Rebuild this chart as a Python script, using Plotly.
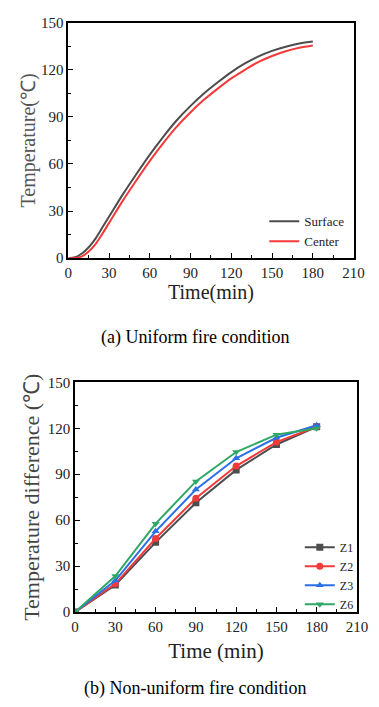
import plotly.graph_objects as go

# (a) Uniform fire condition: temperature history of surface and center
time_a = [0, 5, 10, 15, 20, 25, 30, 40, 50, 60, 70, 80, 90, 100, 110, 120, 130, 140, 150, 160, 170, 180]
surface = [0, 0.6, 3, 7, 12.5, 19.5, 26.5, 40.5, 53.5, 66, 77.5, 88, 97, 105, 112, 118.5, 124, 128.5, 132, 134.7, 136.7, 138]
center = [0, 0.1, 1.2, 4.3, 9, 15.5, 22.5, 36.5, 49.5, 62, 73.5, 84, 93, 101, 108, 114.5, 120, 125, 128.8, 131.8, 134, 135.5]

# (b) Non-uniform fire condition: temperature difference at zones
time_b = [0, 30, 60, 90, 120, 150, 180]
z1 = [0, 17.7, 45.5, 71.3, 92.8, 109.4, 121]
z2 = [0, 18.4, 48, 74.3, 95.3, 111, 121]
z3 = [0, 20.5, 52.7, 80, 100.4, 113.8, 122]
z6 = [0, 23.5, 57.7, 85.3, 104.5, 115.8, 120]

x_ticks = [0, 30, 60, 90, 120, 150, 180, 210]
y_ticks = [0, 30, 60, 90, 120, 150]

W, H = 379, 707
SERIF = "'Liberation Serif', 'Times New Roman', serif"

fig = go.Figure()

fig.add_trace(go.Scatter(x=time_a, y=surface, name="Surface", mode="lines",
                         line=dict(color="#4d4d4d", width=2, shape="spline"),
                         xaxis="x", yaxis="y", legend="legend"))
fig.add_trace(go.Scatter(x=time_a, y=center, name="Center", mode="lines",
                         line=dict(color="#f23a3a", width=2, shape="spline"),
                         xaxis="x", yaxis="y", legend="legend"))

zones = [("Z1", z1, "#4d4d4d", "square"),
         ("Z2", z2, "#f23a3a", "circle"),
         ("Z3", z3, "#2a6ee8", "triangle-up"),
         ("Z6", z6, "#2fa866", "triangle-down")]
for name, vals, color, sym in zones:
    fig.add_trace(go.Scatter(x=time_b, y=vals, name=name, mode="lines+markers",
                             line=dict(color=color, width=2),
                             marker=dict(symbol=sym, size=7, color=color),
                             xaxis="x2", yaxis="y2", legend="legend2"))

def px_x(p):
    return p / W

def px_y(p):
    return 1 - p / H

axis_common = dict(
    showline=True, linecolor="black", linewidth=1.5, mirror=True,
    ticks="inside", ticklen=5, tickwidth=1, tickcolor="black",
    minor=dict(ticks="inside", ticklen=3, tickwidth=1, tickcolor="black", dtick=15),
    showgrid=False, zeroline=False,
    tickfont=dict(family=SERIF, size=15, color="#222"),
)

fig.update_layout(
    width=W, height=H,
    margin=dict(l=0, r=0, t=0, b=0),
    paper_bgcolor="white", plot_bgcolor="white",
    font=dict(family=SERIF),
    xaxis=dict(domain=[px_x(67), px_x(364)], range=[0, 210], tickvals=x_ticks,
               anchor="y",
               title=dict(text="Time(min)", standoff=4,
                          font=dict(family=SERIF, size=20, color="#222")),
               **axis_common),
    yaxis=dict(domain=[px_y(256), px_y(15)], range=[0, 150], tickvals=y_ticks,
               anchor="x",
               title=dict(text="Temperature(℃)", standoff=0,
                          font=dict(family=SERIF, size=20, color="#555")),
               **axis_common),
    xaxis2=dict(domain=[px_x(74), px_x(367.5)], range=[0, 210], tickvals=x_ticks,
                anchor="y2",
                title=dict(text="Time (min)", standoff=10,
                           font=dict(family=SERIF, size=21, color="#222")),
                **axis_common),
    yaxis2=dict(domain=[px_y(618), px_y(383)], range=[0, 150], tickvals=y_ticks,
                anchor="x2",
                title=dict(text="Temperature difference (℃)", standoff=2,
                           font=dict(family=SERIF, size=22, color="#444")),
                **axis_common),
    legend=dict(x=px_x(271), y=px_y(203), xanchor="left", yanchor="top",
                bgcolor="rgba(0,0,0,0)", font=dict(family=SERIF, size=13, color="#222"),
                tracegroupgap=0, itemwidth=30),
    legend2=dict(x=px_x(308), y=px_y(537), xanchor="left", yanchor="top",
                 bgcolor="rgba(0,0,0,0)", font=dict(family=SERIF, size=12, color="#222"),
                 tracegroupgap=0, itemwidth=30),
    annotations=[
        dict(text="(a) Uniform fire condition", x=px_x(199), y=px_y(337),
             xref="paper", yref="paper", xanchor="center", yanchor="middle",
             showarrow=False, font=dict(family=SERIF, size=18, color="black")),
        dict(text="(b) Non-uniform fire condition", x=px_x(199), y=px_y(696),
             xref="paper", yref="paper", xanchor="center", yanchor="middle",
             showarrow=False, font=dict(family=SERIF, size=18, color="black")),
    ],
)

fig.write_html("out.html")
